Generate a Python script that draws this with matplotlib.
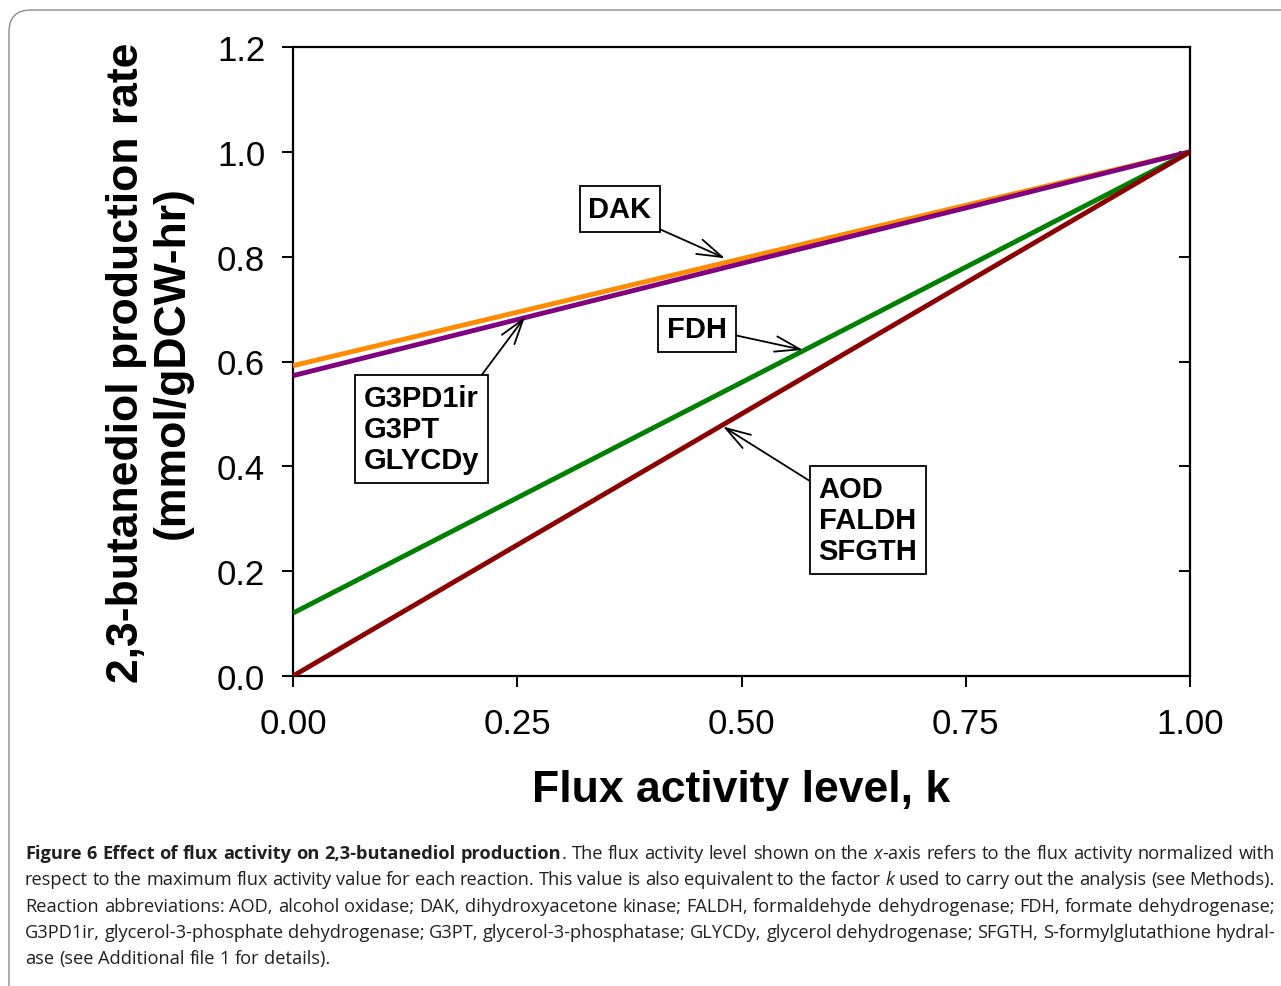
import matplotlib
matplotlib.use("Agg")
import matplotlib.pyplot as plt
from matplotlib.patches import FancyBboxPatch
from matplotlib.transforms import IdentityTransform

# flux activity level k and 2,3-butanediol production rate
k = [0.0, 0.25, 0.5, 0.75, 1.0]
dak = [0.592, 0.694, 0.796, 0.898, 1.0]
g3pd = [0.573, 0.680, 0.787, 0.893, 1.0]
fdh = [0.120, 0.340, 0.560, 0.780, 1.0]
aod = [0.0, 0.250, 0.500, 0.750, 1.0]

xticks = [0.0, 0.25, 0.5, 0.75, 1.0]
xticklabels = ["0.00", "0.25", "0.50", "0.75", "1.00"]
yticks = [0.0, 0.2, 0.4, 0.6, 0.8, 1.0, 1.2]
yticklabels = ["0.0", "0.2", "0.4", "0.6", "0.8", "1.0", "1.2"]

caption = [
    [("Figure 6 Effect of flux activity on 2,3-butanediol production", "bold"),
     (". The flux activity level shown on the ", "normal"), ("x", "italic"),
     ("-axis refers to the flux activity normalized with", "normal")],
    [("respect to the maximum flux activity value for each reaction. This value is also "
      "equivalent to the factor ", "normal"), ("k", "italic"),
     (" used to carry out the analysis (see Methods).", "normal")],
    [("Reaction abbreviations: AOD, alcohol oxidase; DAK, dihydroxyacetone kinase; "
      "FALDH, formaldehyde dehydrogenase; FDH, formate dehydrogenase;", "normal")],
    [("G3PD1ir, glycerol-3-phosphate dehydrogenase; G3PT, glycerol-3-phosphatase; "
      "GLYCDy, glycerol dehydrogenase; SFGTH, S-formylglutathione hydral-", "normal")],
    [("ase (see Additional file 1 for details).", "normal")],
]

plt.rcParams['font.family'] = ['Liberation Sans', 'DejaVu Sans']

W, H = 1281, 987
fig = plt.figure(figsize=(W / 100, H / 100), dpi=100)
ax = fig.add_axes([293 / W, 1 - 677 / H, (1190 - 293) / W, (677 - 48) / H])

ax.plot(k, dak, color="#ff8c00", lw=3.5, solid_capstyle="butt", zorder=3)
ax.plot(k, g3pd, color="#800080", lw=3.5, solid_capstyle="butt", zorder=3)
ax.plot(k, fdh, color="#008000", lw=3.5, solid_capstyle="butt", zorder=3)
ax.plot(k, aod, color="#8b0000", lw=3.5, solid_capstyle="butt", zorder=3)

ax.set_xlim(0, 1)
ax.set_ylim(0, 1.2)
ax.set_xticks(xticks)
ax.set_xticklabels(xticklabels)
ax.set_yticks(yticks)
ax.set_yticklabels(yticklabels)
ax.tick_params(axis="both", labelsize=25, width=1.4, length=8, color="black")
ax.tick_params(axis="x", pad=14)
ax.tick_params(axis="y", pad=12, right=True)
for t in ax.yaxis.get_major_ticks():
    t.tick2line.set_marker(0)  # right-side ticks point inward
for s in ax.spines.values():
    s.set_linewidth(1.6)

ax.set_xlabel("Flux activity level, k", fontsize=32, fontweight="bold")
ax.xaxis.set_label_coords(0.5, -0.148)
ax.set_ylabel("2,3-butanediol production rate\n(mmol/gDCW-hr)", fontsize=32,
              fontweight="bold", linespacing=1.15)
ax.yaxis.set_label_coords(-0.112, 0.5)

box = dict(boxstyle="square,pad=0.3", fc="white", ec="black", lw=1.3)


def note(text, xytext, xy, relpos):
    ax.annotate(text, xy=xy, xytext=xytext, xycoords="data", textcoords="data",
                ha="center", va="center", multialignment="left", fontsize=21,
                fontweight="bold", linespacing=1.15, bbox=box, zorder=6,
                arrowprops=dict(arrowstyle="->,head_length=0.9,head_width=0.28",
                                mutation_scale=20, color="black", lw=1.3,
                                shrinkA=0, shrinkB=0, relpos=relpos))


note("DAK", (0.3645, 0.891), (0.4816, 0.797), (0.91, 0.0))
note("FDH", (0.4504, 0.662), (0.5686, 0.622), (1.0, 0.34))
note("G3PD1ir\nG3PT\nGLYCDy", (0.1438, 0.471), (0.2586, 0.685), (0.96, 1.0))
note("AOD\nFALDH\nSFGTH", (0.641, 0.2976), (0.4794, 0.476), (0.0, 0.87))

# rounded frame of the figure panel
frame = FancyBboxPatch((9, -40), 1320, 976 + 40, boxstyle="round,pad=0,rounding_size=22",
                       transform=IdentityTransform(), fc="none", ec="#8a8a8a", lw=1.0)
fig.patches.append(frame)

# justified caption
renderer = fig.canvas.get_renderer()
cap_font = ["Open Sans", "DejaVu Sans"]
x0, x1 = 25, 1275
baselines = [859, 885, 912, 938, 964]


def split_words(segs):
    words = []
    glue = False
    for txt, st in segs:
        parts = txt.split(" ")
        for i, p in enumerate(parts):
            if i == 0 and glue and words:
                if p:
                    words[-1].append((p, st))
            elif p:
                words.append([(p, st)])
        glue = not txt.endswith(" ")
    return words


def piece(x, y, txt, st, size):
    weight = "bold" if st == "bold" else "normal"
    style = "italic" if st == "italic" else "normal"
    return fig.text(x / W, 1 - y / H, txt, fontsize=size, family=cap_font,
                    fontweight=weight, fontstyle=style, color="#231f20",
                    ha="left", va="baseline")


def measure(txt, st, size):
    t = piece(0, 0, txt, st, size)
    w = t.get_window_extent(renderer).width
    t.remove()
    return w


# pick the font size so the widest justified line fits with normal spacing
base = 12.0
space = measure("a a", "normal", base) - measure("aa", "normal", base)
need = 0
for segs in caption[:-1]:
    words = split_words(segs)
    wsum = sum(measure(txt, st, base) for w in words for txt, st in w)
    need = max(need, wsum + space * 0.95 * (len(words) - 1))
cap_size = base * (x1 - x0) / need
space = space * cap_size / base

for li, segs in enumerate(caption):
    words = split_words(segs)
    arts = []
    widths = []
    for w in words:
        parts = []
        tot = 0
        for txt, st in w:
            t = piece(0, baselines[li], txt, st, cap_size)
            wpx = t.get_window_extent(renderer).width
            parts.append((t, wpx))
            tot += wpx
        arts.append(parts)
        widths.append(tot)
    if li < len(caption) - 1:
        gap = (x1 - x0 - sum(widths)) / (len(words) - 1)
    else:
        gap = space
    x = x0
    for parts, wtot in zip(arts, widths):
        xx = x
        for t, wpx in parts:
            t.set_x(xx / W)
            xx += wpx
        x += wtot + gap

fig.savefig("out.png", dpi=100)
